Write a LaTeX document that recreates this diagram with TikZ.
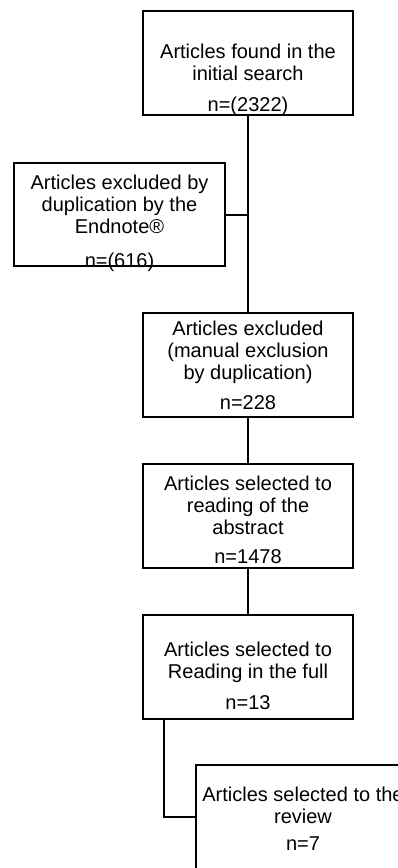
\documentclass[tikz,border=0pt]{standalone}
\usepackage{fontspec}
\setmainfont{Liberation Sans}
\begin{document}
\begin{tikzpicture}[x=1pt,y=-1pt,
	box/.style={draw,line width=2pt,minimum width=210pt,minimum height=104pt,inner sep=0pt},
	txt/.style={align=center,inner sep=0pt,font=\fontsize{20}{22}\selectfont},
	link/.style={line width=2pt}]
		\useasboundingbox (0,0) rectangle (398,868);
		%boxes
		\node[box] (found) at (248,63) {};
		\node[box,minimum width=211pt,minimum height=103pt] (endnote) at (119.5,214.5) {};
		\node[box] (manual) at (248,365) {};
		\node[box] (abstract) at (248,516) {};
		\node[box] (full) at (248,667) {};
		\node[box,minimum width=214pt] (review) at (303,817) {};
		%texts
		\node[txt] (foundtxt) at (248,80) {Articles found in the\\initial search\\[9pt]n=(2322)};
		\node[txt] (endnotetxt) at (119.5,223) {Articles excluded by\\duplication by the\\Endnote\textregistered\\[12pt]n=(616)};
		\node[txt] (manualtxt) at (248,365) {Articles excluded\\(manual exclusion\\by duplication)\\[8pt]n=228};
		\node[txt] (abstracttxt) at (248,520) {Articles selected to\\reading of the\\abstract\\[7pt]n=1478};
		\node[txt] (fulltxt) at (248,675.5) {Articles selected to\\Reading in the full\\[9pt]n=13};
		\node[txt] (reviewtxt) at (303,819) {Articles selected to the\\review\\[5pt]n=7};
		%links
		\draw[link] (found.south) -- (manual.north);
		\draw[link] (endnote.east) -- (endnote.east -| found.south);
		\draw[link] (manual.south) -- (abstract.north);
		\draw[link] (abstract.south) -- (full.north);
		\draw[link] ([xshift=-84pt]full.south) |- (review.west);
	\end{tikzpicture}
\end{document}
